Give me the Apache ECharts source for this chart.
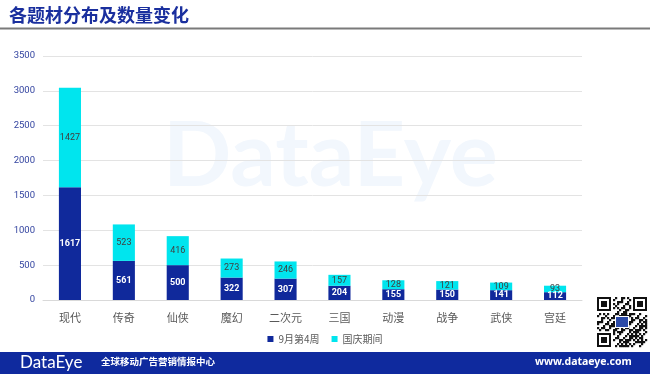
<!DOCTYPE html>
<html><head><meta charset="utf-8">
<script src="https://cdn.jsdelivr.net/npm/echarts@6/dist/echarts.min.js"></script>
<style>html,body{margin:0;padding:0;background:#fff}#c{width:650px;height:374px}</style>
</head><body><div id="c"></div>
<script>
const categories = ['现代','传奇','仙侠','魔幻','二次元','三国','动漫','战争','武侠','宫廷'];
const week4Sep = [1617,561,500,322,307,204,155,150,141,112];
const nationalDay = [1427,523,416,273,246,157,128,121,109,93];
const seriesNames = ['9月第4周','国庆期间'];
const titleText = '各题材分布及数量变化';
const footerSlogan = '全球移动广告营销情报中心';
const footerUrl = 'www.dataeye.com';

const FONT = '"Noto Sans CJK SC", "Noto Sans", sans-serif';
const DARK = '#10299b', CYAN = '#00e5ee';

// decorative QR-like pattern
function qrElements(x0, y0, size) {
  const n = 25, c = size / n, els = [];
  els.push({type:'rect', shape:{x:x0-2,y:y0-2,width:size+4,height:size+4}, style:{fill:'#fff'}, z:5});
  const finder = (fx, fy) => {
    els.push({type:'rect', shape:{x:x0+fx*c,y:y0+fy*c,width:7*c,height:7*c}, style:{fill:'#111'}, z:6});
    els.push({type:'rect', shape:{x:x0+(fx+1)*c,y:y0+(fy+1)*c,width:5*c,height:5*c}, style:{fill:'#fff'}, z:6});
    els.push({type:'rect', shape:{x:x0+(fx+2)*c,y:y0+(fy+2)*c,width:3*c,height:3*c}, style:{fill:'#111'}, z:6});
  };
  for (let i = 0; i < n; i++) for (let j = 0; j < n; j++) {
    const inF = (i<8&&j<8)||(i>=n-8&&j<8)||(i<8&&j>=n-8);
    if (inF) continue;
    if (((i*7 + j*13 + (i*j)%5) % 3) === 0 || ((i^j)&3) === 1) {
      els.push({type:'rect', shape:{x:x0+i*c,y:y0+j*c,width:c+0.2,height:c+0.2}, style:{fill:'#111'}, z:6});
    }
  }
  finder(0,0); finder(n-7,0); finder(0,n-7);
  els.push({type:'rect', shape:{x:x0+size/2-7,y:y0+size/2-6,width:14,height:12}, style:{fill:'#fff'}, z:7});
  els.push({type:'rect', shape:{x:x0+size/2-6,y:y0+size/2-5,width:12,height:10}, style:{fill:'#2b4aa8'}, z:7});
  return els;
}

const chart = echarts.init(document.getElementById('c'), null, {renderer:'canvas'});
chart.setOption({
  animation: false,
  backgroundColor: '#fff',
  textStyle: { fontFamily: FONT },
  title: {
    text: titleText, left: 4, top: 1,
    textStyle: { fontFamily: FONT, fontSize: 18, fontWeight: 'bold', color: '#1a2f9e' }
  },
  legend: {
    data: seriesNames, bottom: 25, left: 'center',
    itemWidth: 6, itemHeight: 6, itemGap: 12, icon: 'rect',
    textStyle: { fontSize: 10, color: '#595959', fontFamily: FONT }
  },
  grid: { left: 43, right: 68, top: 56, bottom: 74 },
  xAxis: {
    type: 'category', data: categories,
    axisLine: { lineStyle: { color: '#d9d9d9' } },
    axisTick: { show: false },
    axisLabel: { color: '#595959', fontSize: 11, margin: 12, fontFamily: FONT }
  },
  yAxis: {
    type: 'value', min: 0, max: 3500, interval: 500,
    axisLine: { show: false }, axisTick: { show: false },
    axisLabel: { color: '#3344a0', fontSize: 9.5, margin: 8, fontFamily: 'Roboto, sans-serif',
      formatter: v => String(v) },
    splitLine: { lineStyle: { color: '#e3e3e3' } }
  },
  series: [
    {
      name: seriesNames[0], type: 'bar', stack: 's', data: week4Sep, barWidth: '41%',
      itemStyle: { color: DARK },
      label: { show: true, position: 'inside', color: '#fff', fontSize: 9, fontWeight: 'bold', fontFamily: 'Roboto, sans-serif' },
      z: 3
    },
    {
      name: seriesNames[1], type: 'bar', stack: 's', data: nationalDay, barWidth: '41%',
      itemStyle: { color: CYAN },
      label: { show: true, position: 'inside', color: '#404040', fontSize: 9, fontFamily: 'Roboto, sans-serif' },
      z: 3
    }
  ],
  graphic: [
    { type: 'text', left: 163, top: 112, z: -1, silent: true,
      style: { text: 'DataEye', font: 'bold 90px Lato, "Open Sans", sans-serif', fill: '#f2f7fd' } },
    { type: 'rect', shape: { x: 0, y: 27.5, width: 650, height: 2 }, style: { fill: '#7a7a7a' } },
    { type: 'rect', shape: { x: 0, y: 352, width: 650, height: 22 }, style: { fill: '#0f2a9e' }, z: 10 },
    { type: 'text', x: 20, y: 354, z: 11,
      style: { text: 'DataEye', font: '17px Lato, "Open Sans", sans-serif', fill: '#fff' } },
    { type: 'text', x: 101, y: 357, z: 11,
      style: { text: footerSlogan, font: 'bold 9.5px "Noto Sans CJK SC", sans-serif', fill: '#fff' } },
    { type: 'text', x: 535, y: 357, z: 11,
      style: { text: footerUrl, font: 'bold 10.5px "Noto Sans", sans-serif', fill: '#fff' } }
  ].concat(qrElements(597, 297, 50))
});
</script></body></html>
